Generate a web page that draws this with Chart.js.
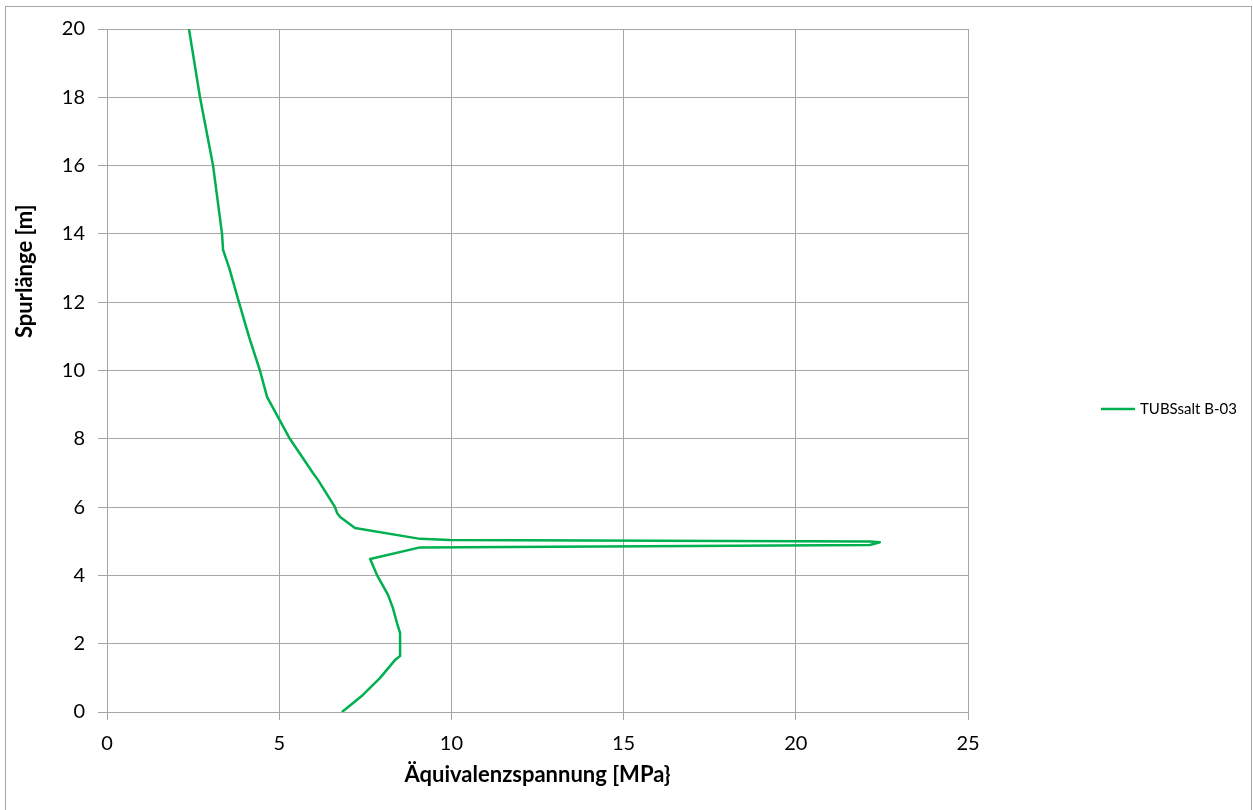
<!DOCTYPE html>
<html>
<head>
<meta charset="utf-8">
<script src="https://cdn.jsdelivr.net/npm/chart.js@4.4.1/dist/chart.umd.min.js"></script>
<style>
  html, body { margin: 0; padding: 0; background: #ffffff; }
  #wrap { width: 1253px; height: 810px; position: relative; }
</style>
</head>
<body>
<div id="wrap"><canvas id="c" width="1253" height="810"></canvas></div>
<script>
// ---- Data ----
const seriesLabel = "TUBSsalt B-03";
const xTitle = "Äquivalenzspannung [MPa}";
const yTitle = "Spurlänge [m]";
const stressValues = [2.38, 2.70, 3.08, 3.34, 3.37, 3.55, 3.83, 4.12, 4.44, 4.65, 5.31, 5.98, 6.13, 6.62, 6.68, 6.77, 7.20, 9.09, 9.96, 22.15, 22.44, 22.15, 9.09, 7.64, 7.84, 8.16, 8.30, 8.42, 8.51, 8.51, 8.36, 7.93, 7.43, 6.95, 6.82];
const lengthValues = [20.0, 18.0, 16.0, 14.0, 13.53, 13.0, 12.0, 11.0, 10.0, 9.22, 8.0, 7.0, 6.79, 6.0, 5.83, 5.71, 5.39, 5.07, 5.04, 4.99, 4.97, 4.89, 4.82, 4.48, 4.01, 3.43, 3.05, 2.61, 2.31, 1.64, 1.52, 1.0, 0.5, 0.1, 0.0];
const xTicks = [0, 5, 10, 15, 20, 25];
const yTicks = [0, 2, 4, 6, 8, 10, 12, 14, 16, 18, 20];

const points = stressValues.map((v, i) => ({ x: v, y: lengthValues[i] }));
const FONT = "Lato, 'Open Sans', 'DejaVu Sans', sans-serif";
const GRID = '#a6a6a6';
const LINE = '#00b050';

const decor = {
  id: 'decor',
  afterDraw(chart) {
    const ctx = chart.ctx;
    ctx.save();
    // outer frame
    ctx.strokeStyle = GRID;
    ctx.lineWidth = 1;
    ctx.strokeRect(5.5, 6.5, 1246, 812);
    // y axis title
    ctx.fillStyle = '#000';
    ctx.font = "bold 22px " + FONT;
    ctx.translate(25, 338);
    ctx.rotate(-Math.PI / 2);
    ctx.textAlign = 'left';
    ctx.textBaseline = 'middle';
    ctx.fillText(yTitle, 0, 0);
    ctx.restore();
    // legend
    ctx.save();
    const ds = chart.data.datasets[0];
    ctx.strokeStyle = ds.borderColor;
    ctx.lineWidth = 2.5;
    ctx.beginPath();
    ctx.moveTo(1101, 409);
    ctx.lineTo(1135, 409);
    ctx.stroke();
    ctx.fillStyle = '#000';
    ctx.font = "15px " + FONT;
    ctx.textAlign = 'left';
    ctx.textBaseline = 'middle';
    ctx.fillText(ds.label, 1140, 409);
    ctx.restore();
  }
};

new Chart(document.getElementById('c'), {
  type: 'scatter',
  data: {
    datasets: [{
      label: seriesLabel,
      data: points,
      showLine: true,
      borderColor: LINE,
      backgroundColor: LINE,
      borderWidth: 2.5,
      borderJoinStyle: 'round',
      pointRadius: 0,
      tension: 0,
      fill: false
    }]
  },
  options: {
    responsive: false,
    animation: false,
    devicePixelRatio: 1,
    layout: { padding: { left: 0, top: 29, right: 285, bottom: 0 } },
    plugins: { legend: { display: false }, tooltip: { enabled: false } },
    scales: {
      x: {
        type: 'linear',
        min: 0, max: 25,
        afterBuildTicks: (s) => { s.ticks = xTicks.map(v => ({ value: v })); },
        afterFit: (s) => { s.height = 98; },
        grid: { color: GRID, lineWidth: 1, tickLength: 8, drawTicks: true },
        border: { color: GRID, width: 1 },
        ticks: { color: '#000', font: { family: FONT, size: 20 }, padding: 12, maxRotation: 0 },
        title: { display: true, text: xTitle, color: '#000', font: { family: FONT, size: 22, weight: 'bold' }, padding: { top: 0, bottom: 22 } }
      },
      y: {
        type: 'linear',
        min: 0, max: 20,
        afterBuildTicks: (s) => { s.ticks = yTicks.map(v => ({ value: v })); },
        afterFit: (s) => { s.width = 107; },
        grid: { color: GRID, lineWidth: 1, tickLength: 9, drawTicks: true },
        border: { color: GRID, width: 1 },
        ticks: { color: '#000', font: { family: FONT, size: 20 }, padding: 13 }
      }
    }
  },
  plugins: [decor]
});
</script>
</body>
</html>
